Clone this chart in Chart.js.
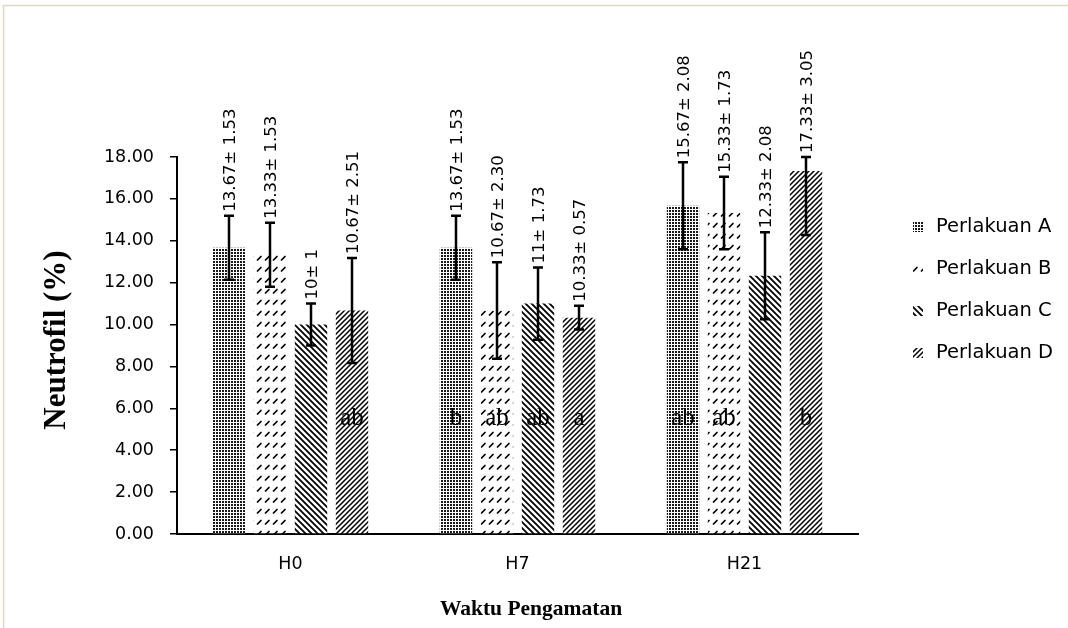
<!DOCTYPE html>
<html>
<head>
<meta charset="utf-8">
<title>Neutrofil</title>
<script src="https://cdn.jsdelivr.net/npm/chart.js@4.4.1/dist/chart.umd.min.js"></script>
<style>
  html, body { margin: 0; padding: 0; background: #fff; }
  #wrap { width: 1068px; height: 628px; }
</style>
</head>
<body>
<div id="wrap"><canvas id="neutrofilChart" width="1068" height="628"></canvas></div>
<script>
// Data
const categories = ["H0", "H7", "H21"];
const seriesNames = ["Perlakuan A", "Perlakuan B", "Perlakuan C", "Perlakuan D"];

const meanA = [13.67, 13.67, 15.67];
const meanB = [13.33, 10.67, 15.33];
const meanC = [10, 11, 12.33];
const meanD = [10.67, 10.33, 17.33];

const sdA = [1.53, 1.53, 2.08];
const sdB = [1.53, 2.30, 1.73];
const sdC = [1, 1.73, 2.08];
const sdD = [2.51, 0.57, 3.05];

const labelA = ["13.67\u00b1 1.53", "13.67\u00b1 1.53", "15.67\u00b1 2.08"];
const labelB = ["13.33\u00b1 1.53", "10.67\u00b1 2.30", "15.33\u00b1 1.73"];
const labelC = ["10\u00b1 1", "11\u00b1 1.73", "12.33\u00b1 2.08"];
const labelD = ["10.67\u00b1 2.51", "10.33\u00b1 0.57", "17.33\u00b1 3.05"];

const letterA = ["", "b", "ab"];
const letterB = ["", "ab", "ab"];
const letterC = ["", "ab", ""];
const letterD = ["ab", "a", "b"];
const letterLevel = 5.5;

const yTicks = [0, 2, 4, 6, 8, 10, 12, 14, 16, 18];
const yTickLabels = ["0.00", "2.00", "4.00", "6.00", "8.00", "10.00", "12.00", "14.00", "16.00", "18.00"];

const yTitle = "Neutrofil (%)";
const xTitle = "Waktu Pengamatan";

const sansFont = "'DejaVu Sans', sans-serif";
const serifFont = "'Liberation Serif', 'Times New Roman', serif";

// hatch patterns for the black & white bars
function makePattern(w, h, draw) {
  const c = document.createElement("canvas");
  c.width = w;
  c.height = h;
  const g = c.getContext("2d");
  g.fillStyle = "#fff";
  g.fillRect(0, 0, w, h);
  g.fillStyle = "#000";
  g.strokeStyle = "#000";
  draw(g);
  return document.createElement("canvas").getContext("2d").createPattern(c, "repeat");
}

const patDots = makePattern(3, 3, (g) => {
  g.fillStyle = "#1a1a1a";
  g.fillRect(0, 0, 2, 2);
});
const patDashes = makePattern(8, 11, (g) => {
  g.lineWidth = 1.7;
  g.lineCap = "round";
  g.beginPath();
  g.moveTo(1.5, 7);
  g.lineTo(5, 3.5);
  g.stroke();
});
const patBack = makePattern(6, 6, (g) => {
  g.lineWidth = 1.8;
  g.beginPath();
  g.moveTo(-1, -1);
  g.lineTo(7, 7);
  g.moveTo(-4, 2);
  g.lineTo(2, 8);
  g.moveTo(2, -4);
  g.lineTo(8, 2);
  g.stroke();
});
const patFwd = makePattern(5, 5, (g) => {
  g.lineWidth = 1.5;
  g.beginPath();
  g.moveTo(-1, 6);
  g.lineTo(6, -1);
  g.moveTo(-3, 3);
  g.lineTo(3, -3);
  g.moveTo(2, 8);
  g.lineTo(8, 2);
  g.stroke();
});

const means = [meanA, meanB, meanC, meanD];
const sds = [sdA, sdB, sdC, sdD];
const valueLabels = [labelA, labelB, labelC, labelD];
const letters = [letterA, letterB, letterC, letterD];
const patterns = [patDots, patDashes, patBack, patFwd];

// error bars, rotated value labels, significance letters
const errorBarPlugin = {
  id: "errorBars",
  afterDatasetsDraw(chart) {
    const ctx = chart.ctx;
    const yScale = chart.scales.y;
    chart.data.datasets.forEach((ds, di) => {
      const meta = chart.getDatasetMeta(di);
      meta.data.forEach((bar, i) => {
        const m = means[di][i];
        const s = sds[di][i];
        const x = bar.x;
        const yTop = yScale.getPixelForValue(Math.min(m + s, yScale.max));
        const yBot = yScale.getPixelForValue(m - s);

        ctx.save();
        ctx.strokeStyle = "#000";
        ctx.lineWidth = 2.5;
        ctx.beginPath();
        ctx.moveTo(x, yTop);
        ctx.lineTo(x, yBot);
        ctx.moveTo(x - 5, yTop);
        ctx.lineTo(x + 5, yTop);
        ctx.moveTo(x - 5, yBot);
        ctx.lineTo(x + 5, yBot);
        ctx.stroke();

        ctx.translate(x + 2, yTop - 4);
        ctx.rotate(-Math.PI / 2);
        ctx.fillStyle = "#000";
        ctx.font = "16.5px " + sansFont;
        ctx.textAlign = "left";
        ctx.textBaseline = "middle";
        ctx.fillText(valueLabels[di][i], 0, 0);
        ctx.restore();

        if (letters[di][i]) {
          ctx.save();
          ctx.fillStyle = "#000";
          ctx.font = "25px " + serifFont;
          ctx.textAlign = "center";
          ctx.textBaseline = "middle";
          ctx.fillText(letters[di][i], x, yScale.getPixelForValue(letterLevel));
          ctx.restore();
        }
      });
    });
  },
};

// frame, axis titles and the legend
const decorPlugin = {
  id: "decor",
  beforeDraw(chart) {
    const ctx = chart.ctx;
    ctx.save();
    ctx.strokeStyle = "#ddd9c4";
    ctx.lineWidth = 1.5;
    ctx.beginPath();
    ctx.moveTo(3.5, 628);
    ctx.lineTo(3.5, 5.5);
    ctx.lineTo(1068, 5.5);
    ctx.stroke();
    ctx.restore();
  },
  afterDraw(chart) {
    const ctx = chart.ctx;
    ctx.save();
    ctx.fillStyle = "#000";
    ctx.font = "bold 31px " + serifFont;
    ctx.textAlign = "center";
    ctx.textBaseline = "middle";
    ctx.translate(57, 340);
    ctx.rotate(-Math.PI / 2);
    ctx.fillText(yTitle, 0, 0);
    ctx.restore();

    ctx.save();
    ctx.fillStyle = "#000";
    ctx.font = "bold 21.5px " + serifFont;
    ctx.textAlign = "center";
    ctx.textBaseline = "middle";
    ctx.fillText(xTitle, 531, 609);
    ctx.restore();

    // legend
    ctx.save();
    seriesNames.forEach((name, i) => {
      const cy = 227 + i * 42;
      ctx.fillStyle = patterns[i];
      ctx.fillRect(913, cy - 5, 10, 10);
      ctx.fillStyle = "#000";
      ctx.font = "19.5px " + sansFont;
      ctx.textAlign = "left";
      ctx.textBaseline = "middle";
      ctx.fillText(name, 936, cy);
    });
    ctx.restore();
  },
};

new Chart(document.getElementById("neutrofilChart"), {
  type: "bar",
  data: {
    labels: categories,
    datasets: seriesNames.map((name, i) => ({
      label: name,
      data: means[i],
      backgroundColor: patterns[i],
      borderWidth: 0,
      categoryPercentage: 0.7225,
      barPercentage: 0.79,
    })),
  },
  options: {
    responsive: false,
    animation: false,
    layout: {
      padding: { left: 40, right: 210, top: 157, bottom: 0 },
    },
    plugins: {
      legend: { display: false },
      tooltip: { enabled: false },
    },
    scales: {
      x: {
        grid: { drawOnChartArea: false, drawTicks: false },
        border: { display: true, color: "#000", width: 2 },
        ticks: {
          color: "#000",
          padding: 20,
          font: { family: sansFont, size: 17.5 },
        },
        afterFit(scale) {
          scale.height = 94;
        },
      },
      y: {
        min: 0,
        max: 18,
        afterBuildTicks(scale) {
          scale.ticks = yTicks.map((v) => ({ value: v }));
        },
        grid: {
          drawOnChartArea: false,
          drawTicks: true,
          tickLength: 7,
          color: "#000",
          lineWidth: 1.5,
        },
        border: { display: true, color: "#000", width: 2 },
        ticks: {
          color: "#000",
          padding: 16,
          font: { family: sansFont, size: 17.5 },
          callback: (v, idx) => yTickLabels[idx],
        },
        afterFit(scale) {
          scale.width = 137;
        },
      },
    },
  },
  plugins: [errorBarPlugin, decorPlugin],
});
</script>
</body>
</html>
